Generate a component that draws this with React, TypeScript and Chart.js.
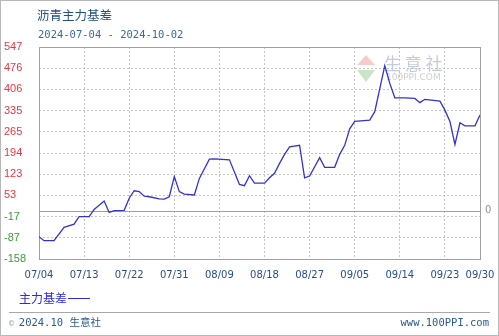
import React, { useEffect, useRef } from "react";
import { Chart, registerables } from "chart.js";

Chart.register(...registerables);

const chartTitle = "沥青主力基差";
const dateRange = "2024-07-04 - 2024-10-02";
const seriesName = "主力基差";
const footerLeft = "2024.10 生意社";
const footerRight = "www.100PPI.com";

// day offsets from 2024-07-04
const dayOffsets = [
  0, 1, 3, 5, 7, 8, 10, 11, 13, 14, 15, 17, 18, 19, 20, 21, 22, 24, 25, 26, 27, 28, 29, 31, 32,
  34, 35, 38, 40, 41, 42, 43, 45, 46, 47, 48, 49, 50, 52, 53, 54, 56, 57, 59, 60, 61, 62, 63,
  66, 67, 69, 70, 71, 73, 74, 75, 76, 77, 80, 81, 82, 83, 84, 85, 87, 88,
];
const basisValues = [
  -84, -97, -97, -53, -42, -17, -17, 7, 35, -3, 3, 4, 44, 69, 66, 51, 49, 42, 41, 49, 116, 66, 58, 55, 110,
  174, 175, 172, 90, 86, 119, 94, 94, 112, 127, 160, 190, 215, 220, 112, 118, 179, 147, 147, 190, 220, 275, 300,
  304, 332, 485, 426, 378, 378, 377, 376, 362, 373, 367, 337, 299, 223, 295, 285, 285, 321,
];

const xTickDays = [0, 9, 18, 27, 36, 45, 54, 63, 72, 81, 88];
const xTickLabels = ["07/04", "07/13", "07/22", "07/31", "08/09", "08/18", "08/27", "09/05", "09/14", "09/23", "09/30"];
const yTickValues = [-158, -87.5, -17, 53.5, 124, 194.5, 265, 335.5, 406, 476.5, 547];
const yTickLabels = ["-158", "-87", "-17", "53", "123", "194", "265", "335", "406", "476", "547"];

const framePlugin = {
  id: "framePlugin",
  beforeDatasetsDraw(chart: any) {
    const { ctx, chartArea } = chart;
    const y = chart.scales.y;
    ctx.save();
    // watermark
    ctx.globalAlpha = 0.55;
    ctx.fillStyle = "#f2a0a0";
    ctx.beginPath();
    ctx.moveTo(357, 65);
    ctx.lineTo(366, 55);
    ctx.lineTo(375, 65);
    ctx.closePath();
    ctx.fill();
    ctx.fillStyle = "#9ad09a";
    ctx.beginPath();
    ctx.moveTo(357, 70);
    ctx.lineTo(375, 70);
    ctx.lineTo(366, 82);
    ctx.closePath();
    ctx.fill();
    ctx.globalAlpha = 1;
    ctx.fillStyle = "#c4ccd8";
    ctx.font = "17px 'Noto Sans CJK SC'";
    ctx.textBaseline = "middle";
    ctx.textAlign = "left";
    ctx.fillText("生 意 社", 384, 64);
    ctx.font = "9px 'DejaVu Sans'";
    ctx.fillStyle = "#cfcfcf";
    ctx.fillText("100PPI.COM", 386, 78);
    // zero line
    const zy = Math.round(y.getPixelForValue(0)) + 0.5;
    ctx.strokeStyle = "#a0a0a0";
    ctx.lineWidth = 1;
    ctx.beginPath();
    ctx.moveTo(chartArea.left, zy);
    ctx.lineTo(chartArea.right, zy);
    ctx.stroke();
    ctx.fillStyle = "#909090";
    ctx.font = "10px 'DejaVu Sans'";
    ctx.textAlign = "left";
    ctx.fillText("0", chartArea.right + 5, zy - 1);
    // frame
    ctx.strokeStyle = "#a0a0a0";
    ctx.strokeRect(
      Math.round(chartArea.left) + 0.5,
      Math.round(chartArea.top) + 0.5,
      Math.round(chartArea.right - chartArea.left),
      Math.round(chartArea.bottom - chartArea.top)
    );
    ctx.restore();
  },
};

function BasisChart() {
  const ref = useRef<HTMLCanvasElement | null>(null);
  useEffect(() => {
    if (!ref.current) return;
    const chart = new Chart(ref.current, {
      type: "line",
      data: {
        datasets: [
          {
            label: seriesName,
            data: dayOffsets.map((d, i) => ({ x: d, y: basisValues[i] })),
            borderColor: "#3434c8",
            borderWidth: 1.3,
            pointRadius: 0,
            tension: 0,
            fill: false,
          },
        ],
      },
      options: {
        animation: false,
        responsive: false,
        devicePixelRatio: 1,
        layout: { padding: { left: 4, top: 47, right: 19, bottom: 0 } },
        plugins: { legend: { display: false }, tooltip: { enabled: false }, title: { display: false } },
        scales: {
          x: {
            type: "linear",
            min: 0,
            max: 88,
            afterBuildTicks: (s: any) => {
              s.ticks = xTickDays.map((v) => ({ value: v }));
            },
            afterFit: (s: any) => {
              s.height = 77;
              s.paddingLeft = 0;
              s.paddingRight = 0;
            },
            ticks: {
              autoSkip: false,
              maxRotation: 0,
              padding: 10,
              color: "#2a4f80",
              font: { family: "'DejaVu Sans'", size: 10 },
              callback: (v: any) => {
                const i = xTickDays.indexOf(Number(v));
                return i >= 0 ? xTickLabels[i] : "";
              },
            },
            grid: { color: "#c4c4c4", drawTicks: false, lineWidth: 1 },
            border: { display: false, dash: [2, 2] },
          },
          y: {
            min: -158,
            max: 547,
            afterBuildTicks: (s: any) => {
              s.ticks = yTickValues.map((v) => ({ value: v }));
            },
            afterFit: (s: any) => {
              s.width = 35;
              s.paddingTop = 0;
              s.paddingBottom = 0;
            },
            ticks: {
              crossAlign: "far",
              padding: 0,
              font: { family: "'Liberation Sans'", size: 11 },
              color: (c: any) => (c.tick && c.tick.value < 0 ? "#3e9a3e" : "#e03a44"),
              callback: (v: any) => {
                const i = yTickValues.indexOf(Number(v));
                return i >= 0 ? yTickLabels[i] : "";
              },
            },
            grid: { color: "#c4c4c4", drawTicks: false, lineWidth: 1 },
            border: { display: false, dash: [2, 2] },
          },
        },
      } as any,
      plugins: [framePlugin],
    });
    return () => chart.destroy();
  }, []);
  return <canvas ref={ref} width={499} height={336} style={{ position: "absolute", left: 0, top: 0 }} />;
}

export default function App() {
  const blue = "#2a5a8c";
  return (
    <div
      style={{
        position: "fixed",
        left: 0,
        top: 0,
        width: 499,
        height: 336,
        background: "#fff",
        overflow: "hidden",
      }}
    >
      <BasisChart />
      <div
        style={{
          position: "absolute",
          left: 37,
          top: 6,
          fontFamily: "'Noto Sans CJK SC'",
          fontSize: 12.5,
          lineHeight: "18px",
          color: "#1e4f86",
          whiteSpace: "nowrap",
        }}
      >
        {chartTitle}
      </div>
      <div
        style={{
          position: "absolute",
          left: 38,
          top: 27,
          fontFamily: "'DejaVu Sans Mono'",
          fontSize: 10.5,
          lineHeight: "14px",
          color: "#3a6a98",
          whiteSpace: "nowrap",
        }}
      >
        {dateRange}
      </div>
      <div
        style={{
          position: "absolute",
          left: 19,
          top: 290,
          fontFamily: "'Noto Sans CJK SC'",
          fontSize: 12,
          lineHeight: "16px",
          color: "#2a2ae0",
          whiteSpace: "nowrap",
          display: "flex",
          alignItems: "center",
        }}
      >
        <span>{seriesName}</span>
        <span style={{ display: "inline-block", width: 22, height: 1, background: "#2a2ae0", marginLeft: 1 }} />
      </div>
      <div style={{ position: "absolute", left: 9, top: 312, width: 481, height: 1, background: "#a8a8a8" }} />
      <div
        style={{
          position: "absolute",
          left: 9,
          top: 315,
          fontFamily: "'DejaVu Sans Mono', 'Noto Sans CJK SC'",
          fontSize: 10.5,
          lineHeight: "14px",
          color: blue,
          whiteSpace: "nowrap",
        }}
      >
        <span style={{ fontSize: 8, color: "#8aa0b8", marginRight: 5 }}>©</span>
        {footerLeft}
      </div>
      <div
        style={{
          position: "absolute",
          right: 10,
          top: 315,
          fontFamily: "'DejaVu Sans Mono'",
          fontSize: 10.5,
          lineHeight: "14px",
          color: blue,
          whiteSpace: "nowrap",
        }}
      >
        {footerRight}
      </div>
      <div
        style={{
          position: "absolute",
          left: 0,
          top: 0,
          width: 499,
          height: 336,
          boxSizing: "border-box",
          border: "1px solid #b8b8b8",
          pointerEvents: "none",
        }}
      />
    </div>
  );
}
